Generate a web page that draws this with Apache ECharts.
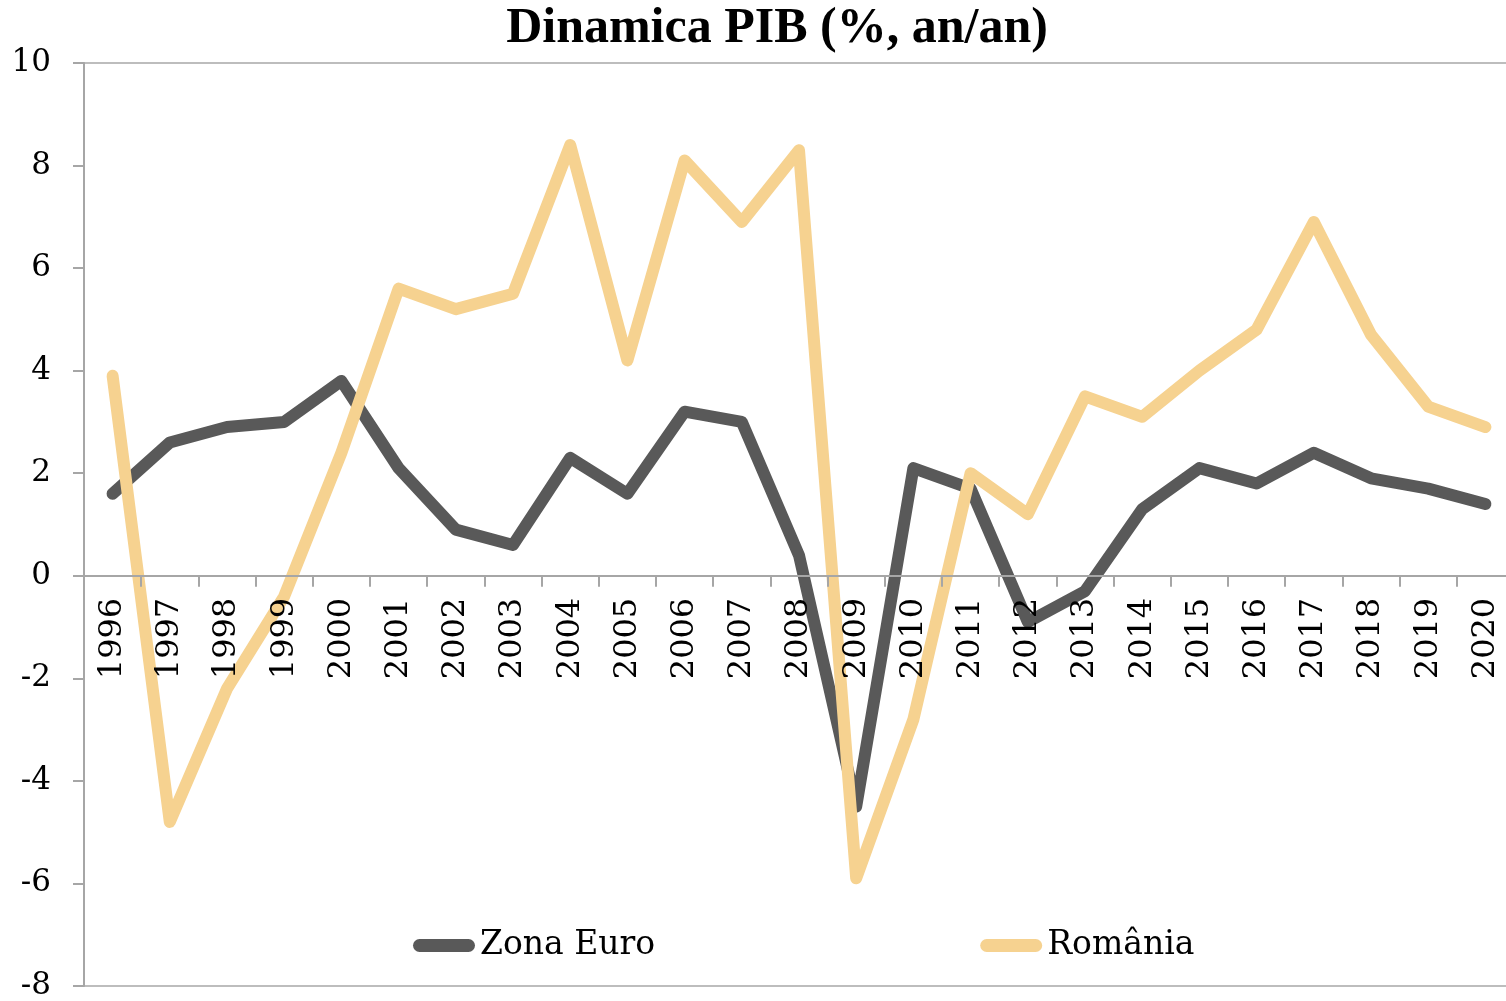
<!DOCTYPE html>
<html>
<head>
<meta charset="utf-8">
<script src="https://cdn.jsdelivr.net/npm/echarts@6/dist/echarts.min.js"></script>
<style>
html,body{margin:0;padding:0;background:#fff;}
#chart{width:1506px;height:1001px;}
</style>
</head>
<body>
<div id="chart"></div>
<script>
const years = ['1996','1997','1998','1999','2000','2001','2002','2003','2004','2005','2006','2007','2008','2009','2010','2011','2012','2013','2014','2015','2016','2017','2018','2019','2020'];
const zonaEuro = [1.6, 2.6, 2.9, 3.0, 3.8, 2.1, 0.9, 0.6, 2.3, 1.6, 3.2, 3.0, 0.4, -4.5, 2.1, 1.7, -0.9, -0.3, 1.3, 2.1, 1.8, 2.4, 1.9, 1.7, 1.4];
const romania = [3.9, -4.8, -2.2, -0.4, 2.4, 5.6, 5.2, 5.5, 8.4, 4.2, 8.1, 6.9, 8.3, -5.9, -2.8, 2.0, 1.2, 3.5, 3.1, 4.0, 4.8, 6.9, 4.7, 3.3, 2.9];
const yTicks = {min: -8, max: 10, interval: 2};
const seriesNames = ['Zona Euro', 'România'];

const gridTop = 63, gridHeight = 923;
// place the category axis on the value 0 line
const zeroOffset = -gridHeight * (0 - yTicks.min) / (yTicks.max - yTicks.min);

const chart = echarts.init(document.getElementById('chart'), null, {renderer: 'canvas'});
const pill = 'path://M6.5,0 L55.5,0 A6.5,6.5 0 0 1 55.5,13 L6.5,13 A6.5,6.5 0 0 1 6.5,0 Z';
chart.setOption({
  animation: false,
  backgroundColor: '#ffffff',
  title: {
    text: 'Dinamica PIB (%, an/an)',
    left: 772,
    textAlign: 'center',
    top: -1,
    textStyle: {fontFamily: 'Liberation Serif', fontWeight: 'bold', fontSize: 50, color: '#000'}
  },
  grid: {
    left: 84, top: gridTop, width: 1430, height: gridHeight,
    outerBoundsMode: 'none', containLabel: false,
    show: true, borderColor: '#BDBDBD', borderWidth: 2, backgroundColor: 'transparent'
  },
  legend: {
    left: 408, top: 924,
    itemWidth: 62, itemHeight: 13, itemGap: 325,
    icon: pill,
    textStyle: {fontFamily: 'DejaVu Serif', fontSize: 33, color: '#000'},
    data: seriesNames
  },
  xAxis: {
    type: 'category',
    data: years,
    boundaryGap: true,
    position: 'bottom',
    offset: zeroOffset,
    z: 5,
    axisLine: {onZero: false, lineStyle: {color: '#A6A6A6', width: 2}},
    axisTick: {show: true, inside: false, length: 11, alignWithLabel: false, lineStyle: {color: '#A6A6A6', width: 2}},
    axisLabel: {rotate: 90, margin: 22, fontFamily: 'DejaVu Serif', fontSize: 32, color: '#000', interval: 0},
    splitLine: {show: false}
  },
  yAxis: {
    type: 'value',
    min: yTicks.min, max: yTicks.max, interval: yTicks.interval,
    axisLine: {show: true, onZero: false, lineStyle: {color: '#A6A6A6', width: 2}},
    axisTick: {show: true, inside: false, length: 11, lineStyle: {color: '#A6A6A6', width: 2}},
    axisLabel: {margin: 33, fontFamily: 'DejaVu Serif', fontSize: 31, color: '#000'},
    splitLine: {show: false}
  },
  series: [
    {
      name: seriesNames[0], type: 'line', data: zonaEuro, symbol: 'none',
      color: '#595959',
      lineStyle: {color: '#595959', width: 12, cap: 'round', join: 'round'}
    },
    {
      name: seriesNames[1], type: 'line', data: romania, symbol: 'none',
      color: '#F6D290',
      lineStyle: {color: '#F6D290', width: 12, cap: 'round', join: 'round'}
    }
  ]
});
</script>
</body>
</html>
